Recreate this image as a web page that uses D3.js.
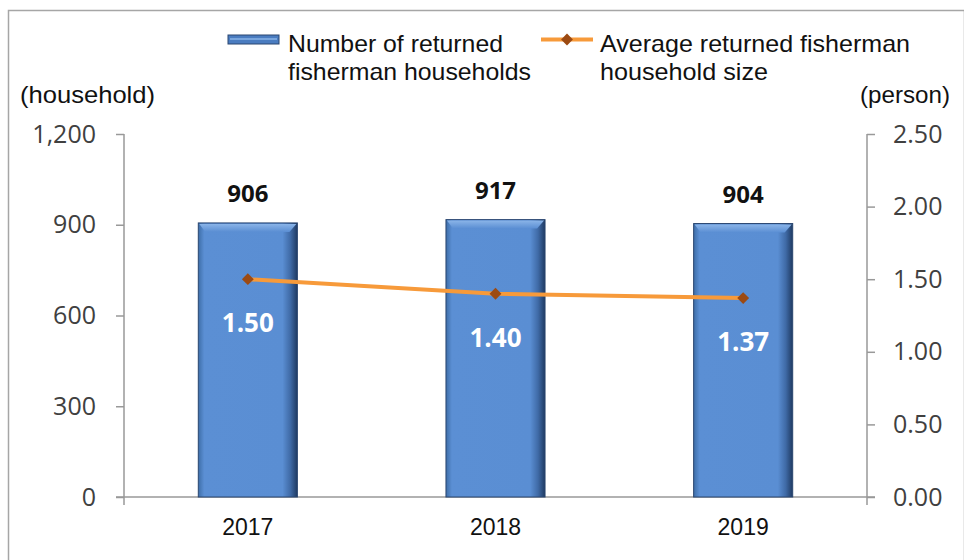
<!DOCTYPE html>
<html><head><meta charset="utf-8">
<script src="https://cdn.jsdelivr.net/npm/d3@7"></script>
<style>body{margin:0;background:#fff}svg{display:block}</style>
</head><body>
<svg id="c" width="964" height="560"></svg>
<script>
const categories = ["2017","2018","2019"];
const households = [906, 917, 904];
const householdSize = [1.50, 1.40, 1.37];
const leftTicks = [0, 300, 600, 900, 1200];
const rightTicks = [0, 0.5, 1.0, 1.5, 2.0, 2.5];
const seriesNames = [["Number of returned","fisherman households"],["Average returned fisherman","household size"]];

const svg = d3.select("#c");
const W = 964, H = 560;
const m = {left:124, right:97, top:134, bottom:63};
const x = d3.scaleBand().domain(categories).range([m.left, W - m.right]).paddingInner(0.6).paddingOuter(0.3);
const yL = d3.scaleLinear().domain([0,1200]).range([H - m.bottom, m.top]);
const yR = d3.scaleLinear().domain([0,2.5]).range([H - m.bottom, m.top]);

svg.append("rect").attr("x",8.5).attr("y",10.5).attr("width",W-8).attr("height",H).attr("fill","none").attr("stroke","#a6a6a6").attr("stroke-width",1.5);

const defs = svg.append("defs");
const g1 = defs.append("linearGradient").attr("id","barH").attr("x1",0).attr("x2",1).attr("y1",0).attr("y2",0);
[[0,"#3e6ea8"],[0.06,"#5b8fd4"],[0.85,"#5a8ed3"],[0.93,"#3f6aa6"],[1,"#1f3a62"]].forEach(s=>g1.append("stop").attr("offset",s[0]).attr("stop-color",s[1]));
const g2 = defs.append("linearGradient").attr("id","barTop").attr("x1",0).attr("x2",0).attr("y1",0).attr("y2",1);
[[0,"#8ab4e8"],[1,"#5a8ed3"]].forEach(s=>g2.append("stop").attr("offset",s[0]).attr("stop-color",s[1]));

// axes
const axL = d3.axisLeft(yL).tickValues(leftTicks).tickSize(8).tickPadding(20).tickFormat(d3.format(","));
const gl = svg.append("g").attr("transform",`translate(${m.left},0)`).call(axL);
const axR = d3.axisRight(yR).tickValues(rightTicks).tickSize(8).tickPadding(18).tickFormat(d3.format(".2f"));
const gr = svg.append("g").attr("transform",`translate(${W-m.right},0)`).call(axR);
[gl,gr].forEach(g=>{
  g.selectAll("path,line").attr("stroke","#999").attr("stroke-width",1.5);
  g.select(".domain").attr("d", `M0,${m.top}V${H-m.bottom+8}`);
  g.selectAll("text").attr("font-family","'Open Sans', Lato, sans-serif").attr("font-size",25).attr("fill","#404040");
});
// baseline
svg.append("line").attr("x1",m.left-8).attr("x2",W-m.right+8).attr("y1",yL(0)).attr("y2",yL(0)).attr("stroke","#999").attr("stroke-width",1.5);

// bars
const bars = svg.append("g");
categories.forEach((c,i)=>{
  const bx = x(c), bw = x.bandwidth(), by = yL(households[i]), bh = yL(0)-by;
  bars.append("rect").attr("x",bx).attr("y",by).attr("width",bw).attr("height",bh).attr("fill","url(#barH)").attr("stroke","#2a4670").attr("stroke-width",1);
  bars.append("path").attr("d",`M${bx+1},${by+1}H${bx+bw-1}L${bx+bw-8},${by+9}H${bx+7}Z`).attr("fill","url(#barTop)");
  bars.append("text").attr("x",bx+bw/2).attr("y",by-21).attr("text-anchor","middle")
    .attr("font-family","'Open Sans', sans-serif").attr("font-weight","bold").attr("font-size",24).attr("fill","#111").text(households[i]);
});

// line
const line = d3.line().x((d,i)=>x(categories[i])+x.bandwidth()/2).y(d=>yR(d));
svg.append("path").datum(householdSize).attr("d",line).attr("fill","none").attr("stroke","#f79a3a").attr("stroke-width",4);
householdSize.forEach((v,i)=>{
  const cx = x(categories[i])+x.bandwidth()/2, cy = yR(v);
  svg.append("path").attr("d",d3.symbol().type(d3.symbolSquare).size(70)()).attr("transform",`translate(${cx},${cy}) rotate(45)`).attr("fill","#9c4a12");
  svg.append("text").attr("x",cx).attr("y",cy+53).attr("text-anchor","middle")
    .attr("font-family","'Open Sans', sans-serif").attr("font-weight","bold").attr("font-size",26).attr("fill","#fff").text(d3.format(".2f")(v));
});

// category labels
categories.forEach(c=>{
  svg.append("text").attr("x",x(c)+x.bandwidth()/2).attr("y",535).attr("text-anchor","middle")
    .attr("font-family","'Liberation Sans', Arial, sans-serif").attr("font-size",23).attr("fill","#111").text(c);
});

// axis titles
const tf = "'Liberation Sans', Arial, sans-serif";
svg.append("text").attr("x",20).attr("y",103).attr("font-family",tf).attr("font-size",24).attr("fill","#111")
  .attr("textLength",135).attr("lengthAdjust","spacingAndGlyphs").text("(household)");
svg.append("text").attr("x",860).attr("y",103).attr("font-family",tf).attr("font-size",24).attr("fill","#111")
  .attr("textLength",90).attr("lengthAdjust","spacingAndGlyphs").text("(person)");

// legend
const lg = svg.append("g");
lg.append("rect").attr("x",228).attr("y",35).attr("width",51).attr("height",9).attr("fill","#4a7cc0").attr("stroke","#2a4670");
lg.append("line").attr("x1",230).attr("x2",277).attr("y1",39).attr("y2",39).attr("stroke","#8ab4e8").attr("stroke-width",1.5);
lg.append("line").attr("x1",541).attr("x2",593).attr("y1",39.5).attr("y2",39.5).attr("stroke","#f79a3a").attr("stroke-width",4);
lg.append("path").attr("d",d3.symbol().type(d3.symbolSquare).size(70)()).attr("transform","translate(567,39.5) rotate(45)").attr("fill","#9c4a12");
const lt = [[288,seriesNames[0],[215,243]],[600,seriesNames[1],[310,168]]];
lt.forEach(([lx,lines,lens])=>{
  lines.forEach((t,j)=>{
    lg.append("text").attr("x",lx).attr("y",52+j*28).attr("font-family",tf).attr("font-size",24).attr("fill","#111")
      .attr("textLength",lens[j]).attr("lengthAdjust","spacingAndGlyphs").text(t);
  });
});
</script>
</body></html>
